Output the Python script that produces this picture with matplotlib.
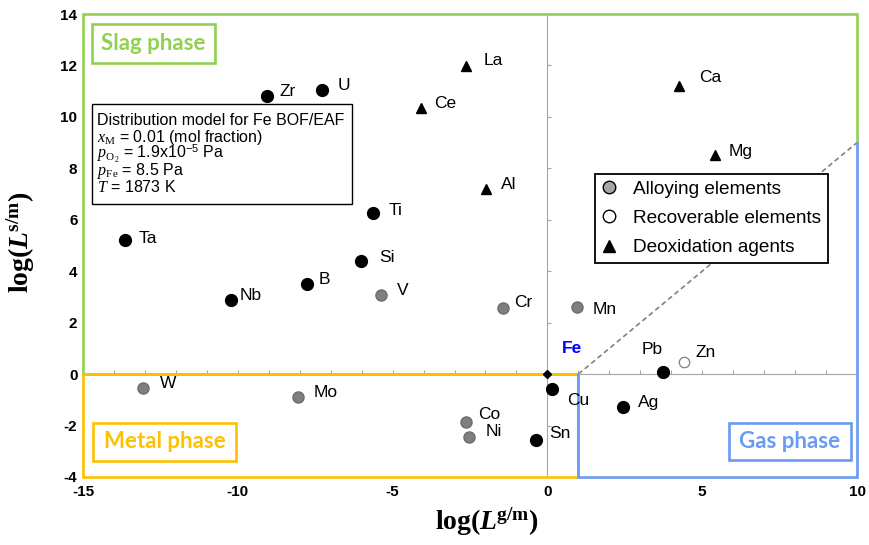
import numpy as np
import matplotlib
matplotlib.use('Agg')
import matplotlib.pyplot as plt
from matplotlib.lines import Line2D
from matplotlib.patches import Rectangle
from matplotlib.ticker import MultipleLocator

plt.rcParams['font.family'] = 'Liberation Sans'
plt.rcParams['axes.unicode_minus'] = False
plt.rcParams['mathtext.fontset'] = 'custom'
plt.rcParams['mathtext.rm'] = 'Liberation Serif'
plt.rcParams['mathtext.it'] = 'Liberation Serif:italic'
plt.rcParams['mathtext.bf'] = 'Liberation Serif:bold'
plt.rcParams['mathtext.bfit'] = 'Liberation Serif:bold:italic'
plt.rcParams['mathtext.sf'] = 'Liberation Sans'

# ---- data: log(L g/m), log(L s/m) ----
other_names = ['Zr', 'U', 'Ti', 'Si', 'Ta', 'Nb', 'B', 'Cu', 'Sn', 'Ag', 'Pb']
other_x = [-9.06, -7.28, -5.63, -6.03, -13.65, -10.22, -7.76, 0.15, -0.37, 2.44, 3.73]
other_y = [10.81, 11.04, 6.26, 4.39, 5.21, 2.88, 3.50, -0.58, -2.57, -1.28, 0.08]

alloy_names = ['V', 'Cr', 'Mn', 'W', 'Mo', 'Co', 'Ni']
alloy_x = [-5.37, -1.43, 0.96, -13.06, -8.06, -2.63, -2.53]
alloy_y = [3.07, 2.57, 2.60, -0.54, -0.89, -1.87, -2.45]

recov_names = ['Zn']
recov_x = [4.41]
recov_y = [0.47]

deox_names = ['La', 'Ce', 'Al', 'Ca', 'Mg']
deox_x = [-2.63, -4.09, -1.98, 4.25, 5.41]
deox_y = [11.98, 10.34, 7.19, 11.20, 8.51]

fe_x = [0.0]
fe_y = [0.0]

# phase region borders
slag_x = [1, -15, -15, 10, 10]
slag_y = [0, 0, 14, 14, 9]
metal_x = [-15, 1, 1, -15, -15]
metal_y = [0, 0, -4, -4, 0]
gas_x = [1, 1, 10, 10]
gas_y = [0, -4, -4, 9]
boundary_x = [1, 10]
boundary_y = [0, 9]

info_lines = ['Distribution model for Fe BOF/EAF',
              r'$x_{\rm M}$ = 0.01 (mol fraction)',
              r'$p_{\rm O_2}$ = 1.9x10$^{\mathsf{-5}}$ Pa',
              r'$p_{\rm Fe}$ = 8.5 Pa',
              r'$T$ = 1873 K']

# label offsets in points (layout only)
label_off = {'Zr': (9, 3.5), 'U': (11.5, 3), 'Ti': (11.5, 2), 'Si': (13.5, 3),
             'Ta': (10, 1.5), 'Nb': (6.5, 3), 'B': (8, 3.5), 'Cu': (11, -8),
             'Sn': (9.5, 4.5), 'Ag': (11, 3.5), 'Pb': (-15, 16),
             'V': (11.5, 3), 'Cr': (8, 4.3), 'Mn': (11.5, -1.5), 'W': (12, 3.5),
             'Mo': (11, 3.5), 'Co': (8.5, 5.8), 'Ni': (12, 4.3), 'Zn': (8, 7),
             'La': (13, 3.6), 'Ce': (9.5, 3), 'Al': (11, 3.6), 'Ca': (14.5, 6),
             'Mg': (10, 3)}

GREEN = '#92D050'
ORANGE = '#FFC000'
BLUE = '#6A9BF4'
AXGRAY = '#A6A6A6'

fig = plt.figure(figsize=(8.69, 5.45), dpi=100)
pos = [83/869, 68/545, 774/869, 463/545]
ax2 = fig.add_axes(pos)
ax = fig.add_axes(pos, sharex=ax2, sharey=ax2)
ax.set_zorder(2)
ax.patch.set_visible(False)

ax.set_xlim(-15, 10)
ax.set_ylim(-4, 14)
ax.xaxis.set_major_locator(MultipleLocator(5))
ax.xaxis.set_minor_locator(MultipleLocator(1))
ax.yaxis.set_major_locator(MultipleLocator(2))

# axes through the origin (drawn on the back axes)
for s in ['top', 'right']:
    ax2.spines[s].set_visible(False)
ax2.spines['left'].set_position(('data', 0))
ax2.spines['bottom'].set_position(('data', 0))
ax2.spines['left'].set_color(AXGRAY)
ax2.spines['bottom'].set_color(AXGRAY)
ax2.spines['left'].set_linewidth(0.8)
ax2.spines['bottom'].set_linewidth(0.8)
ax2.tick_params(which='both', direction='in', length=3, width=0.8, color=AXGRAY,
                labelleft=False, labelbottom=False)
ax2.tick_params(axis='y', which='minor', length=0)

# front axes: only tick labels at the outer edge
for s in ax.spines.values():
    s.set_visible(False)
ax.tick_params(which='both', length=0)
ax.tick_params(axis='y', pad=4, labelsize=11)
ax.tick_params(axis='x', pad=6, labelsize=11)
for t in ax.get_xticklabels() + ax.get_yticklabels():
    t.set_fontweight('bold')

ax.set_xlabel(r'$\mathbf{log(}\mathbfit{L}^{\mathbf{g/m}}\mathbf{)}$', fontsize=20)
ax.set_ylabel(r'$\mathbf{log(}\mathbfit{L}^{\mathbf{s/m}}\mathbf{)}$', fontsize=20)
ax.xaxis.set_label_coords(0.522, -0.062)
ax.yaxis.set_label_coords(-0.06, 0.507)

# phase regions
ax.plot(boundary_x, boundary_y, color='#808080', lw=1.2, ls=(0, (3, 2)), zorder=2)
ax.plot(slag_x, slag_y, color=GREEN, lw=1.9, clip_on=False, zorder=3,
        solid_joinstyle='miter')
ax.plot(metal_x, metal_y, color=ORANGE, lw=1.9, clip_on=False, zorder=3,
        solid_joinstyle='miter')
ax.plot(gas_x, gas_y, color=BLUE, lw=1.9, clip_on=False, zorder=3,
        solid_joinstyle='miter')

# markers
ax.plot(other_x, other_y, 'o', color='black', ms=8.5, ls='none', zorder=5)
ax.plot(alloy_x, alloy_y, 'o', mfc='#7F7F7F', mec='#6E6E6E', ms=8, ls='none', zorder=5)
ax.plot(recov_x, recov_y, 'o', mfc='white', mec='#808080', mew=0.9, ms=7.5, ls='none', zorder=5)
ax.plot(deox_x, deox_y, '^', color='black', ms=7.5, ls='none', zorder=5)
ax.plot(fe_x, fe_y, 'D', color='black', ms=4.5, ls='none', zorder=6)

for names, xs, ys in [(other_names, other_x, other_y), (alloy_names, alloy_x, alloy_y),
                      (recov_names, recov_x, recov_y), (deox_names, deox_x, deox_y)]:
    for n, xv, yv in zip(names, xs, ys):
        ax.annotate(n, (xv, yv), xytext=label_off[n], textcoords='offset points',
                    ha='left', va='center', fontsize=12.5, zorder=6)
ax.annotate('Fe', (fe_x[0], fe_y[0]), xytext=(10.5, 18.5), textcoords='offset points',
            ha='left', va='center', fontsize=12.5, fontweight='bold', color='#0000FF', zorder=6)

# phase name boxes
for (x0, y0, w, h), (cx, cy), txt, col in [
        ((0.0116, 0.894, 0.159, 0.0842), (0.0911, 0.9363), 'Slag phase', GREEN),
        ((0.0129, 0.0346, 0.1848, 0.082), (0.1053, 0.0756), 'Metal phase', ORANGE),
        ((0.8346, 0.0367, 0.158, 0.080), (0.9128, 0.0767), 'Gas phase', BLUE)]:
    ax.add_patch(Rectangle((x0, y0), w, h, transform=ax.transAxes, fc='white',
                           ec=col, lw=1.9, zorder=4))
    ax.text(cx, cy, txt, transform=ax.transAxes, ha='center', va='center',
            color=col, fontsize=16, fontweight='bold', family='Lato', zorder=5)

# info box
ax.add_patch(Rectangle((9/774, (477-204)/463), 260/774, 100/463, transform=ax.transAxes,
                       fc='white', ec='black', lw=1.0, zorder=4))
for i, line in enumerate(info_lines):
    ax.text(14/774, (477-125-16.8*i)/463, line, transform=ax.transAxes,
            ha='left', va='baseline', fontsize=11.5, zorder=5)

# legend
handles = [Line2D([], [], marker='o', ls='none', mfc='#A6A6A6', mec='black', mew=1.0, ms=9),
           Line2D([], [], marker='o', ls='none', mfc='white', mec='black', mew=1.0, ms=9),
           Line2D([], [], marker='^', ls='none', color='black', ms=9)]
leg = ax.legend(handles, ['Alloying elements', 'Recoverable elements', 'Deoxidation agents'],
                loc='upper left', bbox_to_anchor=((595-83)/774, (477-174)/463),
                fontsize=13.7, frameon=True, fancybox=False, framealpha=1,
                edgecolor='black', borderpad=0.35, handlelength=0.82,
                handletextpad=0.85, labelspacing=0.62, borderaxespad=0)
leg.get_frame().set_linewidth(1.3)
leg.set_zorder(7)

fig.savefig('out.png', dpi=100)
